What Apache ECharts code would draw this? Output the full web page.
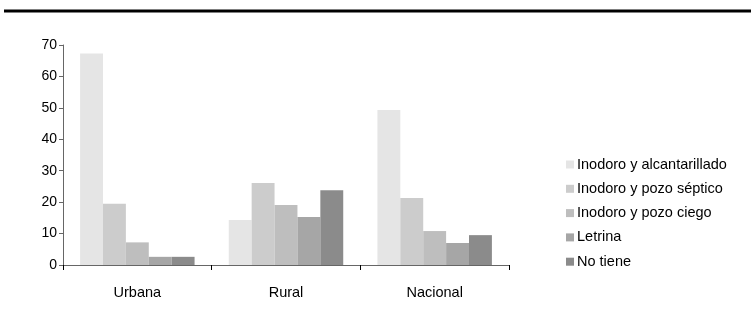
<!DOCTYPE html>
<html><head><meta charset="utf-8">
<script src="https://cdn.jsdelivr.net/npm/echarts@6/dist/echarts.min.js"></script>
<style>html,body{margin:0;padding:0;background:#fff}#c{width:751px;height:323px}</style>
</head><body><div id="c"></div>
<script>
const categories = ["Urbana", "Rural", "Nacional"];
const seriesNames = ["Inodoro y alcantarillado", "Inodoro y pozo séptico", "Inodoro y pozo ciego", "Letrina", "No tiene"];
const alcantarillado = [67.3, 14.3, 49.3];
const pozoSeptico = [19.5, 26.1, 21.3];
const pozoCiego = [7.2, 19.1, 10.8];
const letrina = [2.6, 15.3, 7.0];
const noTiene = [2.6, 23.8, 9.5];
const yTicks = [0, 10, 20, 30, 40, 50, 60, 70];
const colors = ["#e5e5e5", "#cccccc", "#bebebe", "#a6a6a6", "#8b8b8b"];
const values = [alcantarillado, pozoSeptico, pozoCiego, letrina, noTiene];

const chart = echarts.init(document.getElementById('c'), null, {renderer: 'canvas'});
const font = 'Liberation Sans, Arial, sans-serif';
chart.setOption({
  animation: false,
  textStyle: {fontFamily: font},
  graphic: [{type: 'rect', shape: {x: 4, y: 9.5, width: 747, height: 3}, style: {fill: '#000'}}],
  grid: {left: 63, right: 242, top: 45, bottom: 58},
  legend: {
    orient: 'vertical', left: 561, top: 152, itemWidth: 8, itemHeight: 8, itemGap: 9.3,
    icon: 'rect', textStyle: {fontSize: 14.5, color: '#000', fontFamily: font, padding: [0,0,0,-2]},
    data: seriesNames
  },
  xAxis: {
    type: 'category', data: categories,
    axisLine: {lineStyle: {color: '#666', width: 1}},
    axisTick: {show: true, length: 5, lineStyle: {color: '#000'}},
    axisLabel: {fontSize: 14.5, color: '#000', margin: 20, fontFamily: font}
  },
  yAxis: {
    type: 'value', min: yTicks[0], max: yTicks[yTicks.length - 1], interval: 10,
    axisLine: {show: true, lineStyle: {color: '#666'}},
    axisTick: {show: true, length: 4, lineStyle: {color: '#666'}},
    splitLine: {show: false},
    axisLabel: {fontSize: 14, color: '#000', margin: 6, fontFamily: font}
  },
  series: seriesNames.map((n, i) => ({
    name: n, type: 'bar', data: values[i], barGap: '0%', barCategoryGap: '23%',
    itemStyle: {color: colors[i]}
  }))
});
</script></body></html>
